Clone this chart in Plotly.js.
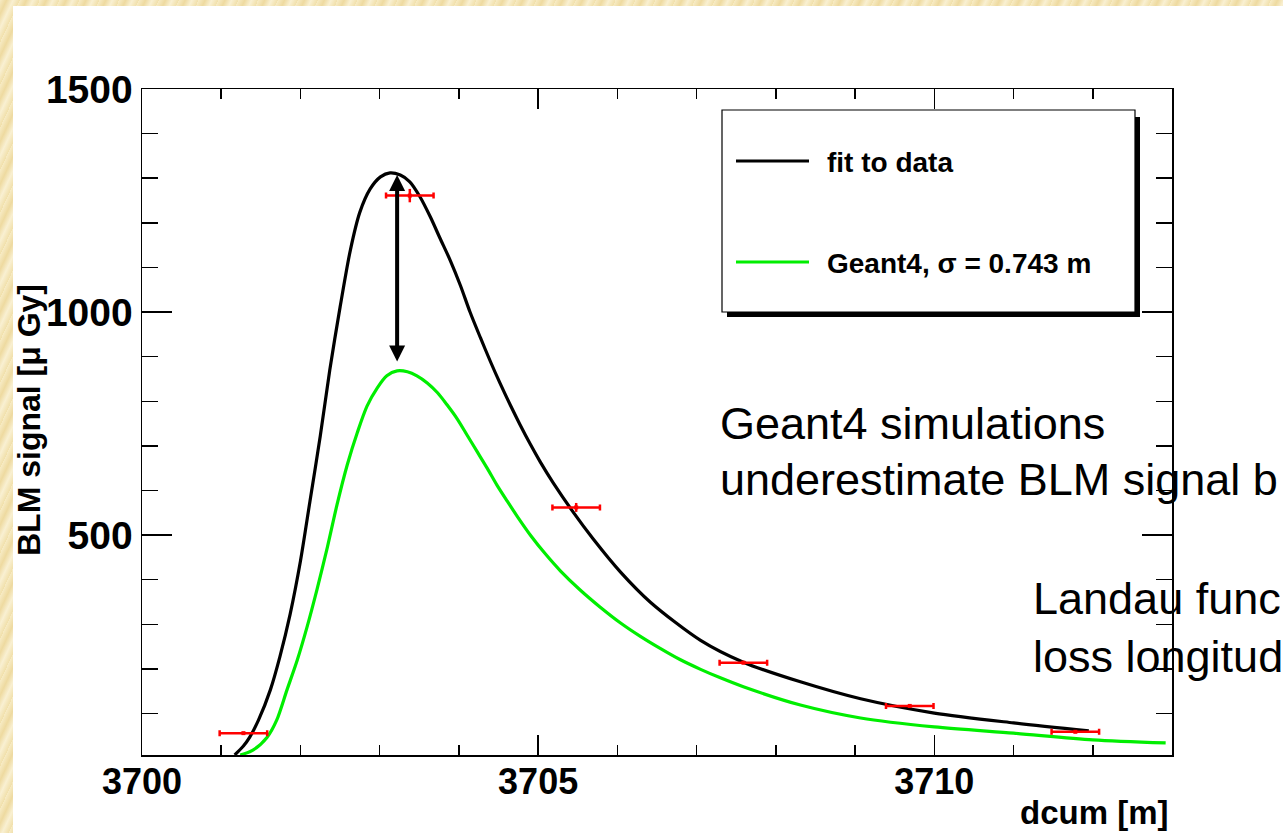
<!DOCTYPE html>
<html><head><meta charset="utf-8">
<script src="https://cdn.plot.ly/plotly-3.0.1.min.js"></script>
<style>
html,body{margin:0;padding:0;width:1283px;height:833px;overflow:hidden;}
body{background: repeating-linear-gradient(115deg,#f7ebc4 0px,#eedaa0 6px,#f9f0d2 12px,#f1e0ab 18px);}
#white{position:absolute;left:13px;top:6px;right:0;bottom:0;background:#fff;}
#plot{position:absolute;left:0;top:0;width:1283px;height:833px;}
</style></head><body>
<div id="white"></div><div id="plot"></div>
<script>
// ---- data ----
const fitX = [3701.17,3701.28,3701.36,3701.47,3701.62,3701.74,3701.87,3702.00,3702.12,3702.25,3702.37,3702.50,3702.63,3702.75,3702.88,3703.01,3703.13,3703.26,3703.38,3703.51,3703.64,3703.76,3703.89,3704.02,3704.14,3704.27,3704.40,3704.52,3704.65,3704.77,3704.90,3705.03,3705.19,3705.44,3705.70,3706.04,3706.42,3707.05,3707.59,3708.31,3709.07,3710.00,3711.00,3711.95];
const fitY = [7,27,47,85,153,227,323,442,576,722,870,1011,1139,1224,1276,1303,1312,1307,1292,1258,1213,1166,1116,1059,1000,943,888,840,791,748,704,663,617,552,490,417,349,264,215,171,133,101,79,61];

const g4X = [3701.24,3701.40,3701.58,3701.70,3701.83,3701.96,3702.08,3702.21,3702.34,3702.46,3702.59,3702.72,3702.84,3702.97,3703.09,3703.22,3703.35,3703.47,3703.60,3703.73,3703.85,3703.98,3704.10,3704.23,3704.36,3704.48,3704.61,3704.74,3704.91,3705.09,3705.28,3705.53,3705.78,3706.04,3706.29,3706.54,3706.79,3707.05,3707.30,3707.59,3708.31,3709.07,3710.00,3711.00,3712.00,3712.92];
const g4Y = [7,18,47,85,153,220,292,379,473,567,657,731,789,830,857,868,866,857,841,819,792,760,725,687,649,612,576,541,498,458,420,377,339,303,273,246,221,199,180,160,119,90,70,56,41,34];

const dataX = [3701.28,3703.38,3705.48,3707.59,3709.69,3711.78];
const dataY = [56,1261,562,214,117,59];
const dataXErr = [0.3,0.3,0.3,0.3,0.3,0.3];
const dataYErr = [2,15,10,4,3,3];

const fitName = 'fit to data';
const g4Name = 'Geant4, \u03c3 = 0.743 m';
const xTitle = 'dcum [m]';
const yTitle = 'BLM signal [\u03bc Gy]';
const noteLines = ['Geant4 simulations','underestimate BLM signal b','Landau func','loss longitud'];

// ---- geometry helpers (page pixels -> paper) ----
const W = 1283, H = 833, ML = 142, MR = 111, MT = 89, MB = 78;
const PW = W - ML - MR, PH = H - MT - MB;
const px = v => (v - ML) / PW;
const py = v => (H - MB - v) / PH;

const bold = {family: 'Liberation Sans, Arial, sans-serif', color: '#000', weight: 'bold'};
const plain = {family: 'Liberation Sans, Arial, sans-serif', color: '#000', size: 45};

const traces = [
  {x: fitX, y: fitY, mode: 'lines', line: {color: '#000', width: 3.2, shape: 'spline', smoothing: 0.8}, showlegend: false, name: fitName},
  {x: g4X, y: g4Y, mode: 'lines', line: {color: '#00ee00', width: 3.2, shape: 'spline', smoothing: 0.8}, showlegend: false, name: g4Name},
  {x: dataX, y: dataY, mode: 'markers', marker: {color: '#ff0000', size: 4, symbol: 'square'},
   error_x: {type: 'data', array: dataXErr, color: '#ff0000', thickness: 2.5, width: 3},
   error_y: {type: 'data', array: dataYErr, color: '#ff0000', thickness: 2.5, width: 0},
   showlegend: false, name: 'data'}
];

const shapes = [
  {type: 'rect', xref: 'paper', yref: 'paper', x0: px(727), x1: px(1140), y0: py(117), y1: py(317), fillcolor: '#000', line: {width: 0}, layer: 'above'},
  {type: 'rect', xref: 'paper', yref: 'paper', x0: px(722), x1: px(1135), y0: py(110), y1: py(312), fillcolor: '#fff', line: {color: '#000', width: 1.2}, layer: 'above'},
  {type: 'line', xref: 'paper', yref: 'paper', x0: px(736), x1: px(809), y0: py(161), y1: py(161), line: {color: '#000', width: 3}, layer: 'above'},
  {type: 'line', xref: 'paper', yref: 'paper', x0: px(736), x1: px(809), y0: py(262), y1: py(262), line: {color: '#00ee00', width: 3}, layer: 'above'}
];

const notePos = [[718, 396], [718, 452], [1031, 571], [1031, 629]];

const annotations = [
  {xref: 'paper', yref: 'paper', x: px(825), y: py(162), xanchor: 'left', yanchor: 'middle', text: fitName, showarrow: false, font: Object.assign({size: 28}, bold)},
  {xref: 'paper', yref: 'paper', x: px(825), y: py(263), xanchor: 'left', yanchor: 'middle', text: g4Name, showarrow: false, font: Object.assign({size: 28}, bold)},
  {xref: 'paper', yref: 'paper', x: px(1171), y: py(812), xanchor: 'right', yanchor: 'middle', text: xTitle, showarrow: false, font: Object.assign({size: 33}, bold)},
  {xref: 'paper', yref: 'paper', x: px(29), y: py(420), xanchor: 'center', yanchor: 'middle', textangle: -90, text: yTitle, showarrow: false, font: Object.assign({size: 32}, bold)},
  {xref: 'x', yref: 'y', axref: 'x', ayref: 'y', x: 3703.22, y: 1307, ax: 3703.22, ay: 886, text: '', showarrow: true,
   arrowhead: 2, startarrowhead: 2, arrowside: 'end+start', arrowsize: 0.8, startarrowsize: 0.8, arrowwidth: 4, arrowcolor: '#000'}
].concat(noteLines.map((t, i) => ({xref: 'paper', yref: 'paper', x: px(notePos[i][0]), y: py(notePos[i][1]),
  xanchor: 'left', yanchor: 'top', align: 'left', text: t, showarrow: false, font: plain})));

const axisCommon = {
  showline: true, linecolor: '#000', linewidth: 1.5, mirror: 'allticks',
  ticks: 'inside', tickcolor: '#000', tickwidth: 1.5,
  showgrid: false, zeroline: false
};

const layout = {
  width: W, height: H,
  paper_bgcolor: 'rgba(0,0,0,0)', plot_bgcolor: '#fff',
  margin: {l: ML, r: MR, t: MT, b: MB, pad: 0},
  showlegend: false,
  xaxis: Object.assign({}, axisCommon, {
    range: [3700, 3713], tickvals: [3700, 3705, 3710], ticktext: ['3700', '3705', '3710'],
    ticklen: 20, ticklabelstandoff: -6, tickfont: Object.assign({size: 36}, bold),
    minor: {dtick: 1, tick0: 3700, ticks: 'inside', ticklen: 10, tickwidth: 1.5, tickcolor: '#000'}
  }),
  yaxis: Object.assign({}, axisCommon, {
    range: [7, 1500], tickvals: [500, 1000, 1500], ticktext: ['500', '1000', '1500'],
    ticklen: 30, ticklabelstandoff: 0, tickfont: Object.assign({size: 39}, bold),
    minor: {dtick: 100, tick0: 0, ticks: 'inside', ticklen: 16, tickwidth: 1.5, tickcolor: '#000'}
  }),
  shapes: shapes,
  annotations: annotations
};

Plotly.newPlot('plot', traces, layout, {staticPlot: true, displayModeBar: false});
</script>
</body></html>
